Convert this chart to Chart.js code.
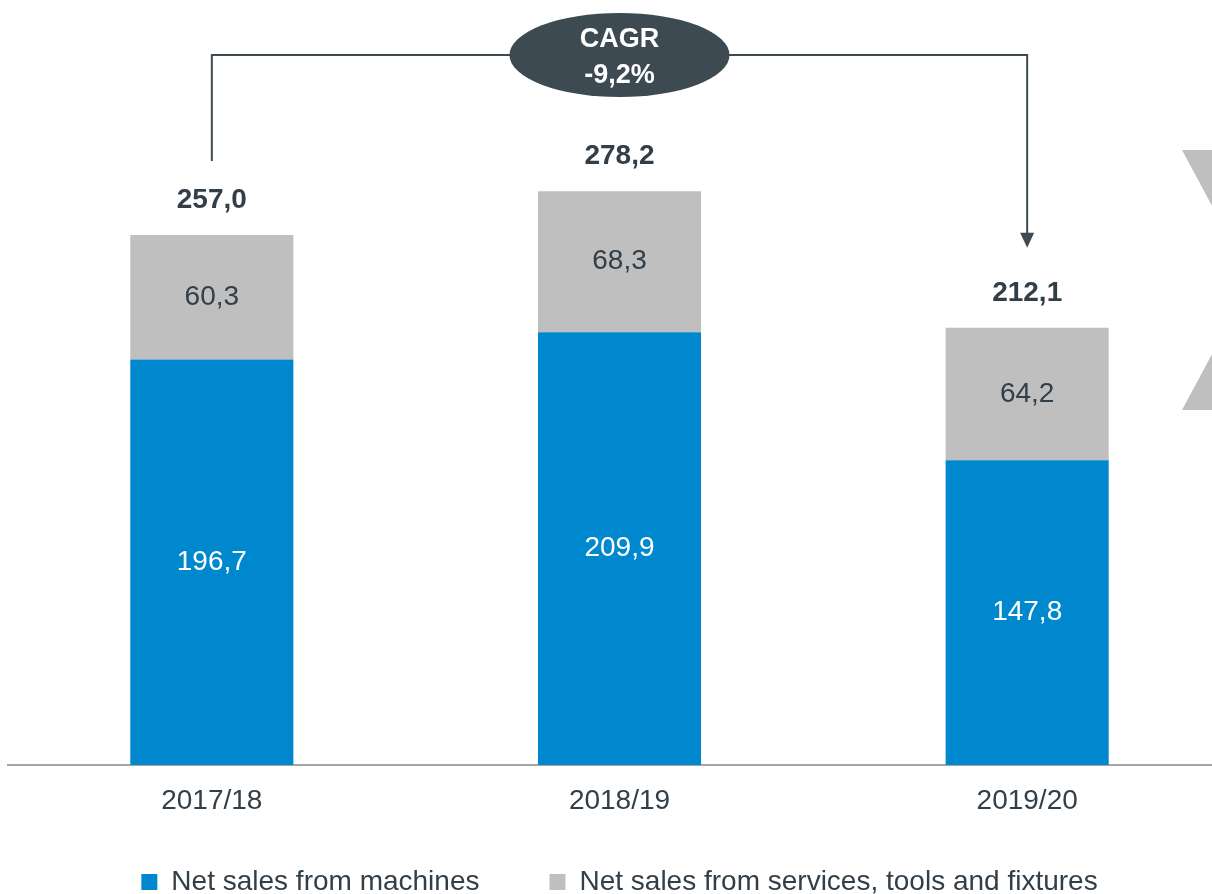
<!DOCTYPE html>
<html>
<head>
<meta charset="utf-8">
<script src="https://cdn.jsdelivr.net/npm/chart.js@4/dist/chart.umd.min.js"></script>
<style>
  html, body { margin: 0; padding: 0; background: #fff; overflow: hidden; }
  #wrap { position: absolute; left: 0; top: 0; width: 1240px; height: 894px; }
</style>
</head>
<body>
<div id="wrap"><canvas id="sales" width="1240" height="894"></canvas></div>
<script>
const categories = ["2017/18", "2018/19", "2019/20"];
const machines = [196.7, 209.9, 147.8];
const services = [60.3, 68.3, 64.2];
const totals = [257.0, 278.2, 212.1];
const seriesNames = ["Net sales from machines", "Net sales from services, tools and fixtures"];
const cagrText = ["CAGR", "-9,2%"];

const dark = "#333F48";
const slate = "#3D4A51";
const fontName = "'Liberation Sans', Arial, sans-serif";

function fmt(v) {
    return v.toFixed(1).replace(".", ",");
}

// labels inside the bars + totals above
const valueLabels = {
    id: "valueLabels",
    afterDatasetsDraw(chart) {
        const ctx = chart.ctx;
        ctx.save();
        ctx.textAlign = "center";
        ctx.textBaseline = "middle";
        chart.data.datasets.forEach((ds, di) => {
            const meta = chart.getDatasetMeta(di);
            meta.data.forEach((bar, i) => {
                const mid = (bar.y + bar.base) / 2;
                ctx.font = "28px " + fontName;
                ctx.fillStyle = di === 0 ? "#ffffff" : dark;
                ctx.fillText(fmt(ds.data[i]), bar.x, mid);
            });
        });
        const top = chart.getDatasetMeta(1);
        top.data.forEach((bar, i) => {
            ctx.font = "bold 28px " + fontName;
            ctx.fillStyle = dark;
            ctx.fillText(fmt(totals[i]), bar.x, bar.y - 35);
        });
        ctx.restore();
    }
};

// CAGR bracket and the cut off shape at the right edge
const cagrBracket = {
    id: "cagrBracket",
    afterDraw(chart) {
        const ctx = chart.ctx;
        const x = chart.scales.x;
        const y = chart.scales.y;
        const x0 = x.getPixelForValue(0);
        const x2 = x.getPixelForValue(2);
        const y0 = y.getPixelForValue(totals[0]) - 74;
        const y2 = y.getPixelForValue(totals[2]) - 80;
        const lineY = 55;
        ctx.save();
        ctx.strokeStyle = slate;
        ctx.fillStyle = slate;
        ctx.lineWidth = 2;
        ctx.beginPath();
        ctx.moveTo(x0, y0);
        ctx.lineTo(x0, lineY);
        ctx.lineTo(x2, lineY);
        ctx.lineTo(x2, y2 - 12);
        ctx.stroke();
        ctx.beginPath();
        ctx.moveTo(x2 - 7, y2 - 15);
        ctx.lineTo(x2 + 7, y2 - 15);
        ctx.lineTo(x2, y2);
        ctx.closePath();
        ctx.fill();

        const cx = (x0 + x2) / 2;
        ctx.beginPath();
        ctx.ellipse(cx, lineY, 110, 42, 0, 0, Math.PI * 2);
        ctx.fill();
        ctx.fillStyle = "#ffffff";
        ctx.font = "bold 27px " + fontName;
        ctx.textAlign = "center";
        ctx.textBaseline = "middle";
        ctx.fillText(cagrText[0], cx, lineY - 15);
        ctx.fillText(cagrText[1], cx, lineY + 21);

        ctx.fillStyle = "#BFBFBF";
        ctx.beginPath();
        ctx.moveTo(1182, 150);
        ctx.lineTo(1240, 150);
        ctx.lineTo(1240, 258);
        ctx.closePath();
        ctx.fill();
        ctx.beginPath();
        ctx.moveTo(1182, 410);
        ctx.lineTo(1240, 410);
        ctx.lineTo(1240, 302);
        ctx.closePath();
        ctx.fill();
        ctx.restore();
    }
};

new Chart(document.getElementById("sales").getContext("2d"), {
    type: "bar",
    data: {
        labels: categories,
        datasets: [{
            label: seriesNames[0],
            data: machines,
            backgroundColor: "#0088CF",
            barPercentage: 0.4,
            categoryPercentage: 1
        }, {
            label: seriesNames[1],
            data: services,
            backgroundColor: "#BFBFBF",
            barPercentage: 0.4,
            categoryPercentage: 1
        }]
    },
    options: {
        responsive: false,
        animation: false,
        layout: { padding: { left: 8, right: 9, top: 0, bottom: -12 } },
        plugins: {
            tooltip: { enabled: false },
            legend: {
                position: "bottom",
                labels: {
                    font: { family: fontName, size: 28 },
                    color: dark,
                    boxWidth: 16,
                    boxHeight: 16,
                    padding: 70
                }
            }
        },
        scales: {
            x: {
                stacked: true,
                grid: { display: false, drawTicks: false },
                border: { display: true, color: "#A6A6A6", width: 2 },
                // mirror keeps the labels from being clipped to the short axis box
                ticks: {
                    font: { family: fontName, size: 28, lineHeight: 1 },
                    color: dark,
                    mirror: true,
                    padding: -50
                },
                afterFit(scale) { scale.height = 33; }
            },
            y: {
                stacked: true,
                display: false,
                min: 0,
                max: 371
            }
        }
    },
    plugins: [valueLabels, cagrBracket]
});
</script>
</body>
</html>
